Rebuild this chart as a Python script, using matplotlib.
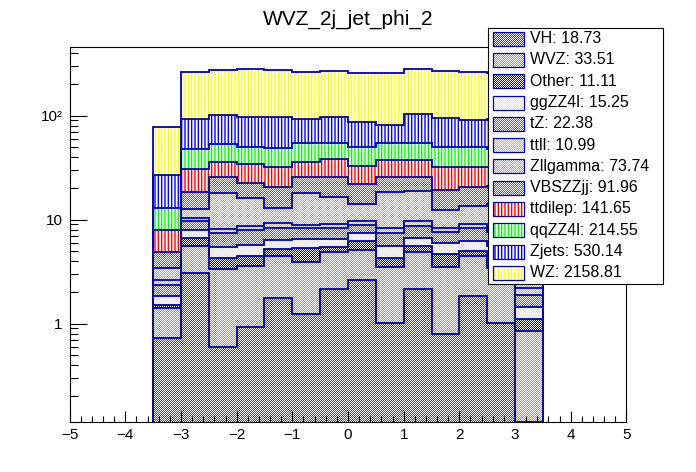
import numpy as np
import matplotlib
matplotlib.use("Agg")
import matplotlib.pyplot as plt
from matplotlib.colors import to_rgb
from matplotlib.patches import Rectangle
from matplotlib.transforms import IdentityTransform
from matplotlib.ticker import (FixedLocator, FixedFormatter, MultipleLocator,
                               LogLocator, NullFormatter)

plt.rcParams['font.family'] = ['Liberation Sans', 'DejaVu Sans']
plt.rcParams['hatch.linewidth'] = 1.0

# bins of jet phi
bin_edges = np.linspace(-3.5, 3.5, 15)

# processes, bottom of the stack first
names = ["VH", "WVZ", "Other", "ggZZ4l", "tZ", "ttll", "Zllgamma",
         "VBSZZjj", "ttdilep", "qqZZ4l", "Zjets", "WZ"]
totals = [18.73, 33.51, 11.11, 15.25, 22.38, 10.99, 73.74,
          91.96, 141.65, 214.55, 530.14, 2158.81]

vh = [0.61, 2.93, 0.48, 0.82, 1.65, 1.12, 2.05, 2.49, 0.89, 2.05, 0.68, 1.71, 0.90, 0.0]
wvz = [0.69, 2.54, 2.72, 2.65, 2.74, 2.67, 2.68, 2.52, 2.51, 2.68, 2.72, 2.68, 2.40, 0.74]
other = [0.10, 1.12, 0.94, 0.86, 0.70, 1.38, 0.56, 1.11, 0.77, 0.68, 1.16, 0.51, 1.00, 0.26]
ggzz4l = [0.32, 1.33, 1.15, 1.23, 1.16, 1.18, 1.16, 1.14, 1.24, 1.08, 1.34, 1.22, 1.20, 0.33]
tz = [0.51, 1.75, 1.97, 2.24, 1.98, 1.76, 1.78, 1.45, 1.85, 2.17, 1.56, 1.99, 2.00, 0.46]
ttll = [0.29, 0.60, 0.79, 0.86, 0.96, 0.74, 0.76, 0.81, 0.97, 0.86, 0.77, 0.88, 0.80, 0.28]
zllgamma = [0.80, 2.26, 9.85, 7.34, 3.61, 9.25, 7.31, 4.58, 10.27, 9.38, 3.97, 4.51, 5.70, 0.22]
vbszzjj = [1.48, 5.97, 7.50, 6.60, 7.60, 7.40, 9.20, 7.80, 7.00, 6.60, 6.90, 6.90, 7.00, 1.11]
ttdilep = [3.07, 11.9, 10.6, 11.3, 11.4, 10.2, 12.4, 11.0, 11.8, 11.8, 12.7, 11.4, 11.0, 2.60]
qqzz4l = [4.83, 16.9, 16.9, 16.2, 16.6, 18.3, 16.8, 17.2, 16.7, 16.7, 17.7, 17.7, 16.0, 4.00]
zjets = [13.9, 44.6, 47.5, 47.2, 47.7, 39.6, 41.4, 35.9, 26.5, 48.8, 44.5, 40.4, 44.0, 12.0]
wz = [50.4, 174, 172, 181, 176, 171, 174, 172, 174.5, 181, 178, 174, 165, 40.0]

layers = [vh, wvz, other, ggzz4l, tz, ttll, zllgamma,
          vbszzjj, ttdilep, qqzz4l, zjets, wz]

colors = ["#ff0000", "#00ff00", "#0000ff", "#ffff00", "#ff00ff", "#00ffff",
          "#78c878", "#5a5ac8", "#ff0000", "#00ff00", "#0000ff", "#ffff00"]
styles = ["check"] * 8 + ["vert"] * 4
line_col = "#0000c0"

W, H = 696, 472
ybot, ytop = 0.113, 456
fig = plt.figure(figsize=(W / 100, H / 100), dpi=100)
ax = fig.add_axes([0.1, 0.106, 0.8, 0.794])
ax.set_yscale('log')
ax.set_xlim(-5, 5)
ax.set_ylim(ybot, ytop)


# checker pattern like ROOT fill style, one pixel per square,
# phase fixed to the figure pixel grid
def checker_img(color, h, w, x0=0, y0=0):
    yy, xx = np.mgrid[0:h, 0:w]
    rgba = np.zeros((h, w, 4))
    rgba[..., :3] = to_rgb(color)
    rgba[..., 3] = ((xx + x0 + yy + y0) % 2 == 0)
    return rgba


bottom = np.full(len(bin_edges) - 1, ybot)
tops = []
for vals, col, st in zip(layers, colors, styles):
    top = bottom + np.array(vals)
    if st == "check":
        patch = ax.stairs(top, bin_edges, baseline=bottom, fill=True,
                          facecolor='white', edgecolor='none', lw=0, zorder=1)
        im = ax.imshow(checker_img(col, H, W), extent=(0, W, 0, H), origin='lower',
                       transform=IdentityTransform(), interpolation='nearest',
                       aspect='auto', zorder=1.2)
        im.set_clip_path(patch)
        im.set_clip_box(fig.bbox)
    else:
        ax.stairs(top, bin_edges, baseline=bottom, fill=True, facecolor='white',
                  edgecolor=col, hatch='|||||', lw=0, zorder=1)
    tops.append(top)
    bottom = top

for top in tops:
    ax.stairs(top, bin_edges, baseline=ybot, color=line_col, lw=1.3, zorder=2)

ax.set_xlim(-5, 5)
ax.set_ylim(ybot, ytop)

# axes in ROOT style
ax.set_axisbelow(False)
ax.xaxis.set_major_locator(MultipleLocator(1))
ax.xaxis.set_minor_locator(MultipleLocator(0.2))
ax.yaxis.set_major_locator(FixedLocator([1, 10, 100]))
ax.yaxis.set_major_formatter(FixedFormatter(["1", "10", "10\u00b2"]))
ax.yaxis.set_minor_locator(LogLocator(base=10, subs=np.arange(2, 10) * 1.0, numticks=20))
ax.yaxis.set_minor_formatter(NullFormatter())
ax.tick_params(which='both', direction='in', top=False, right=False,
               labelsize=11, width=0.8)
ax.xaxis.set_tick_params(which='major', length=8, pad=4)
ax.xaxis.set_tick_params(which='minor', length=4.3)
ax.yaxis.set_tick_params(which='major', length=12, pad=5)
ax.yaxis.set_tick_params(which='minor', length=6)
for sp in ax.spines.values():
    sp.set_linewidth(0.8)

fig.text(0.5, 0.947, "WVZ_2j_jet_phi_2", ha='center', va='baseline', fontsize=15)


# legend drawn by hand (pixel positions, y from the top)
def fx(px):
    return px / W


def fy(py):
    return 1 - py / H


leg_l, leg_r, leg_t, leg_b = 487.5, 663, 28, 283.5
fig.add_artist(Rectangle((fx(leg_l), fy(leg_b)), (leg_r - leg_l) / W, (leg_b - leg_t) / H,
                         transform=fig.transFigure, facecolor='white',
                         edgecolor='black', lw=0.8, zorder=5))
row_h = (leg_b - leg_t) / len(names)
sw_l, sw_w, sw_h = 493, 31, 14
for i, (name, tot, col, st) in enumerate(zip(names, totals, colors, styles)):
    yc = leg_t + row_h * (i + 0.5)
    y0 = int(round(yc + sw_h / 2))
    if st == "check":
        fig.figimage(checker_img(col, sw_h, sw_w, sw_l, H - y0), xo=sw_l, yo=H - y0,
                     origin='lower', zorder=6)
    else:
        fig.add_artist(Rectangle((fx(sw_l), fy(y0)), sw_w / W, sw_h / H,
                                 transform=fig.transFigure, facecolor='white',
                                 edgecolor=col, hatch='|||||', lw=0, zorder=6))
    fig.add_artist(Rectangle((fx(sw_l), fy(y0)), sw_w / W, sw_h / H,
                             transform=fig.transFigure, fill=False,
                             edgecolor=line_col, lw=0.9, zorder=7))
    fig.text(fx(530), fy(yc), f"{name}: {tot:.2f}", va='center', ha='left',
             fontsize=11.5, zorder=7)

fig.savefig("out.png", dpi=100)
